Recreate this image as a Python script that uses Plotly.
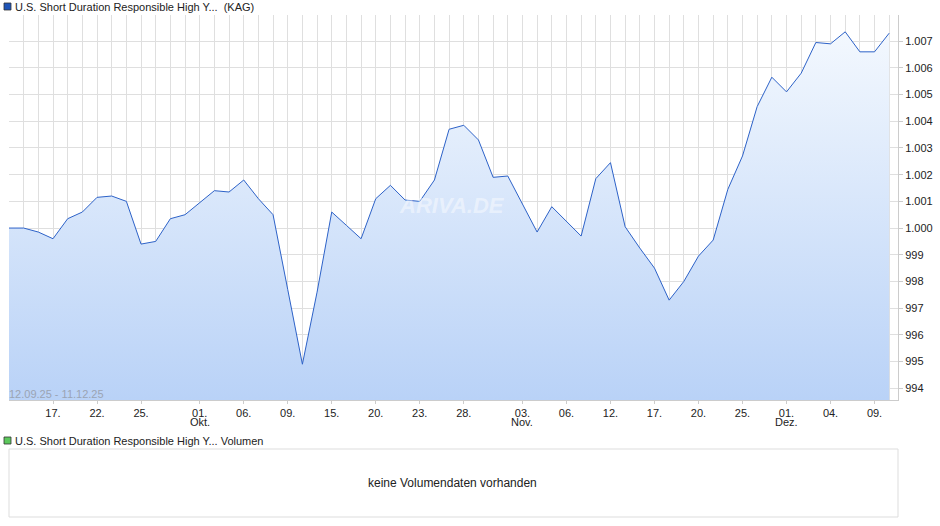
import plotly.graph_objects as go

values = [1000.0, 1000.0, 999.85, 999.6, 1000.35, 1000.6, 1001.15, 1001.2, 1001.0, 999.4,
          999.5, 1000.35, 1000.5, 1000.95, 1001.4, 1001.35, 1001.8, 1001.1, 1000.5, 997.7,
          994.9, 997.6, 1000.6, 1000.1, 999.6, 1001.1, 1001.6, 1001.05, 1001.0, 1001.8,
          1003.7, 1003.85, 1003.3, 1001.9, 1001.95, 1000.9, 999.85, 1000.8, 1000.25, 999.7,
          1001.85, 1002.45, 1000.05, 999.25, 998.5, 997.3, 998.0, 998.95, 999.55, 1001.45,
          1002.7, 1004.55, 1005.65, 1005.1, 1005.8, 1006.95, 1006.9, 1007.35, 1006.6, 1006.6,
          1007.3]
x_idx = list(range(len(values)))
tick_pos = [3, 6, 9, 13, 16, 19, 22, 25, 28, 31, 35, 38, 41, 44, 47, 50, 53, 56, 59]
tick_text = ["17.", "22.", "25.", "01.", "06.", "09.", "15.", "20.", "23.", "28.",
             "03.", "06.", "12.", "17.", "20.", "25.", "01.", "04.", "09."]
month_pos = [13, 35, 53]
month_text = ["Okt.", "Nov.", "Dez."]
y_ticks = [994, 995, 996, 997, 998, 999, 1000, 1001, 1002, 1003, 1004, 1005, 1006, 1007]
y_text = ["994", "995", "996", "997", "998", "999", "1.000", "1.001", "1.002", "1.003",
          "1.004", "1.005", "1.006", "1.007"]
y_base = 993.56

FONT = "Liberation Sans Narrow, Liberation Sans, Arial"
fig = go.Figure()
fig.add_trace(go.Scatter(x=x_idx, y=[y_base] * len(x_idx), mode="lines",
                         line=dict(width=0), hoverinfo="skip", showlegend=False))
fig.add_trace(go.Scatter(x=x_idx, y=values, mode="lines", fill="tonexty",
                         line=dict(color="#2d62c8", width=1),
                         fillgradient=dict(type="vertical",
                                           colorscale=[[0, "#b9d2f7"], [1, "#f3f8fe"]]),
                         showlegend=False))
fig.update_layout(
    width=940, height=526, margin=dict(l=0, r=0, t=0, b=0, autoexpand=False),
    paper_bgcolor="white", plot_bgcolor="white",
    font=dict(family=FONT, size=11, color="#222"),
    xaxis=dict(domain=[9/940, 898/940], range=[0, 60.6], tickvals=tick_pos, ticktext=tick_text,
               showgrid=True, gridcolor="#dfdfdf", ticks="outside", ticklen=3, tickcolor="#ccc",
               minor=dict(dtick=1, tick0=0, showgrid=True, gridcolor="#dfdfdf"),
               showline=True, linecolor="#ccc", zeroline=False, automargin=False,
               tickfont=dict(size=11)),
    yaxis=dict(domain=[1 - 400/526, 1 - 15/526], range=[y_base, 1007.98], side="right",
               tickvals=y_ticks, ticktext=y_text, showgrid=True, gridcolor="#dfdfdf",
               ticks="outside", ticklen=4, tickcolor="#ccc", showline=True, linecolor="#ccc",
               zeroline=False, automargin=False),
)
for mp, mt in zip(month_pos, month_text):
    fig.add_annotation(xref="x", yref="paper", x=mp, y=1 - 422/526, yanchor="middle",
                       text=mt, showarrow=False, font=dict(family=FONT, size=11, color="#222"))
fig.add_shape(type="rect", xref="paper", yref="paper", x0=9/940, x1=898/940,
              y0=1 - 517/526, y1=1 - 449/526, line=dict(color="#dddddd", width=1))
fig.add_annotation(xref="paper", yref="paper", x=452/940, y=1 - 483/526, yanchor="middle",
                   text="keine Volumendaten vorhanden", showarrow=False,
                   font=dict(family="Liberation Sans, Arial", size=12, color="#222"))
fig.add_shape(type="rect", xref="paper", yref="paper", x0=4/940, x1=11/940,
              y0=1 - 10/526, y1=1 - 3/526, fillcolor="#1f55b8", line=dict(color="#333", width=0.8))
fig.add_annotation(xref="paper", yref="paper", x=13/940, y=1 - 6.5/526, xanchor="left", yanchor="middle",
                   text="U.S. Short Duration Responsible High Y...  (KAG)", showarrow=False,
                   font=dict(family="Liberation Sans, Arial", size=11, color="#222"))
fig.add_shape(type="rect", xref="paper", yref="paper", x0=4/940, x1=11/940,
              y0=1 - 444/526, y1=1 - 437/526, fillcolor="#5cc85c", line=dict(color="#333", width=0.8))
fig.add_annotation(xref="paper", yref="paper", x=13/940, y=1 - 440.5/526, xanchor="left", yanchor="middle",
                   text="U.S. Short Duration Responsible High Y... Volumen", showarrow=False,
                   font=dict(family=FONT, size=11, color="#222"))
fig.add_annotation(xref="paper", yref="paper", x=7/940, y=1 - 394/526, xanchor="left", yanchor="middle",
                   text="12.09.25 - 11.12.25", showarrow=False,
                   font=dict(family=FONT, size=11, color="#9aa4b4"))
fig.add_annotation(xref="paper", yref="paper", x=452/940, y=1 - 205/526, yanchor="middle",
                   text="<b><i>ARIVA.DE</i></b>", showarrow=False,
                   font=dict(family="Liberation Sans, Arial", size=22, color="rgba(255,255,255,0.45)"))
fig.write_html("out.html", config={"displayModeBar": False},
               post_script="document.body.style.margin='0';document.body.style.overflow='hidden';")
